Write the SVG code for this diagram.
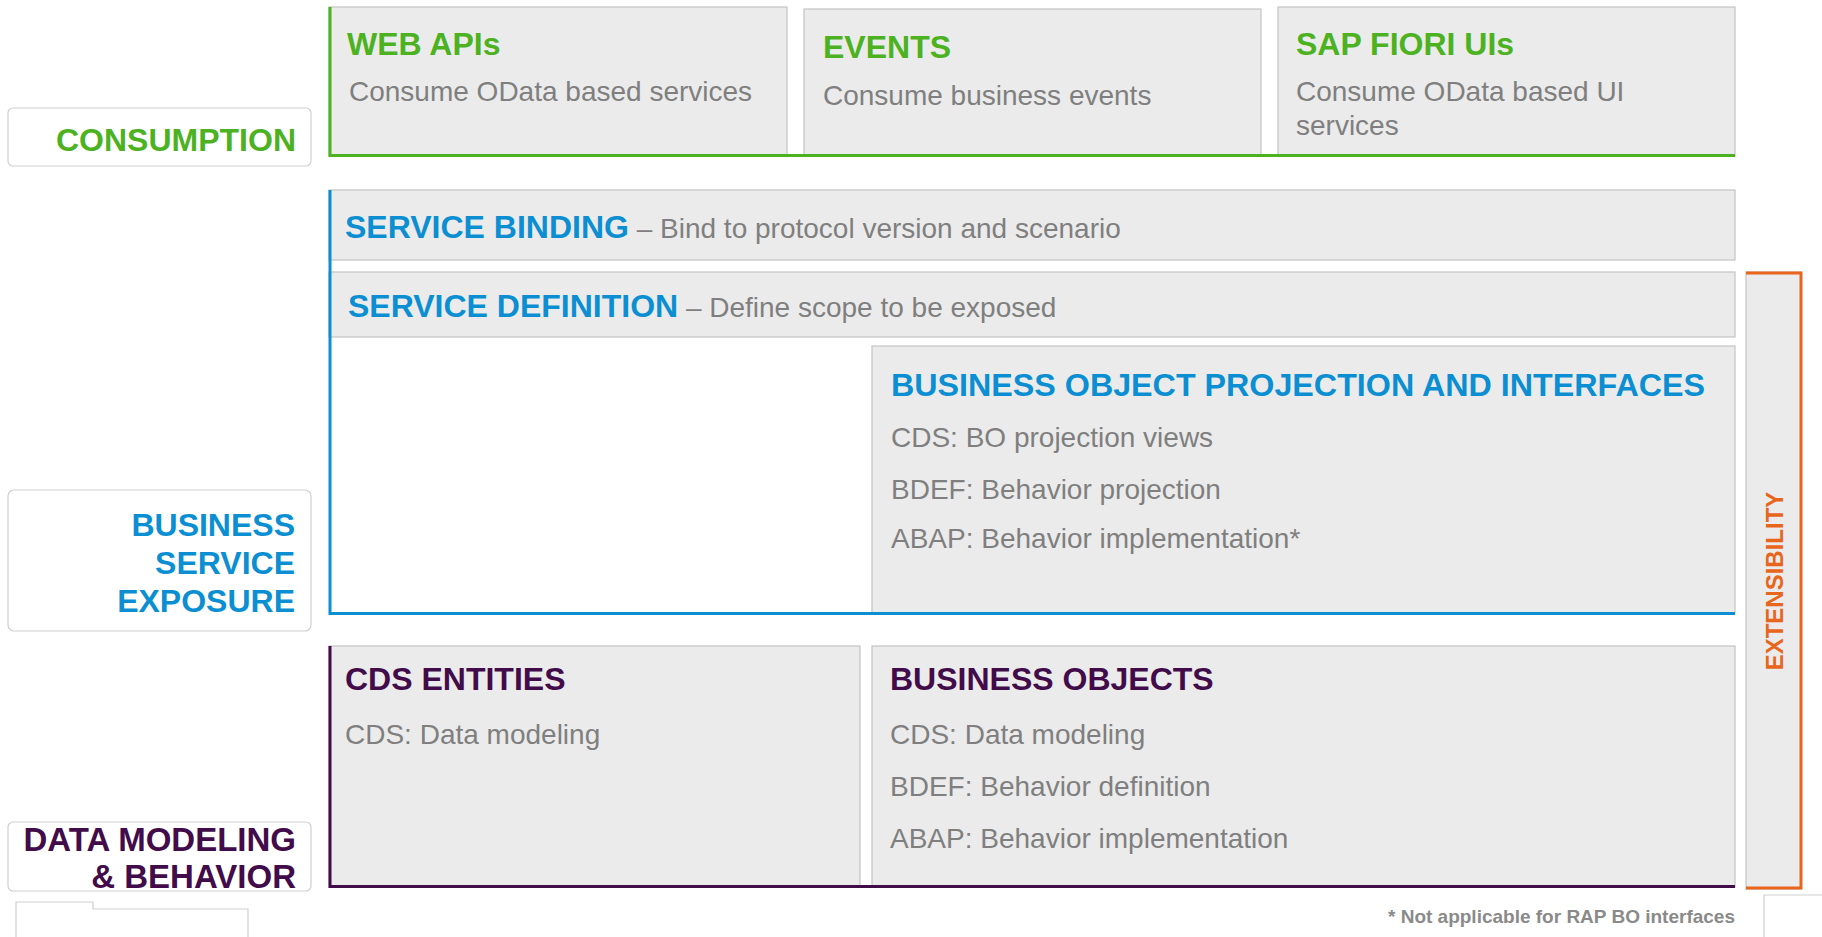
<svg xmlns="http://www.w3.org/2000/svg" width="1822" height="937" viewBox="0 0 1822 937">
<style>
.box{fill:#ebebeb;stroke:#c4c4c4;stroke-width:1.2}
.lbl{fill:#ffffff;stroke:#cfcfcf;stroke-width:1.2}
.t{font-family:"Liberation Sans",Arial,sans-serif;font-weight:bold;font-size:32px}
.b{font-family:"Liberation Sans",Arial,sans-serif;font-size:28px;fill:#7f7f7f}
.g{fill:#4cb21f}
.bl{fill:#0b8fd2}
.p{fill:#420b4a}
.o{fill:#e8661c}
</style>
<rect width="1822" height="937" fill="#ffffff"/>

<g id="label-consumption">
<rect class="lbl" x="8" y="108" width="303" height="58" rx="5"/>
<text class="t g" x="296" y="151" text-anchor="end">CONSUMPTION</text>
</g>
<g id="label-business-service-exposure">
<rect class="lbl" x="8" y="490" width="303" height="141" rx="6"/>
<text class="t bl" x="295" y="536" text-anchor="end">BUSINESS</text>
<text class="t bl" x="295" y="574" text-anchor="end">SERVICE</text>
<text class="t bl" x="295" y="612" text-anchor="end">EXPOSURE</text>
</g>
<g id="label-data-modeling">
<rect class="lbl" x="8" y="822" width="303" height="69" rx="5"/>
<text class="t p" x="296" y="851" text-anchor="end" font-size="33" style="font-size:33px">DATA MODELING</text>
<text class="t p" x="296" y="888" text-anchor="end" style="font-size:33px">&amp; BEHAVIOR</text>
</g>

<g id="web-apis">
<rect class="box" x="329" y="7" width="458" height="149"/>
<text class="t g" x="347" y="55">WEB APIs</text>
<text class="b" x="349" y="101">Consume OData based services</text>
</g>
<g id="events">
<rect class="box" x="804" y="9" width="457" height="147"/>
<text class="t g" x="823" y="58">EVENTS</text>
<text class="b" x="823" y="105">Consume business events</text>
</g>
<g id="sap-fiori-uis">
<rect class="box" x="1278" y="7" width="457" height="149"/>
<text class="t g" x="1296" y="55">SAP FIORI UIs</text>
<text class="b" x="1296" y="101">Consume OData based UI</text>
<text class="b" x="1296" y="135">services</text>
</g>

<g id="service-binding">
<rect class="box" x="329" y="190" width="1406" height="70"/>
<text x="345" y="238"><tspan class="t bl">SERVICE BINDING</tspan><tspan class="b"> – Bind to protocol version and scenario</tspan></text>
</g>
<g id="service-definition">
<rect class="box" x="329" y="272" width="1406" height="65"/>
<text x="348" y="317"><tspan class="t bl">SERVICE DEFINITION</tspan><tspan class="b"> – Define scope to be exposed</tspan></text>
</g>
<g id="bo-projection">
<rect class="box" x="872" y="346" width="863" height="267"/>
<text class="t bl" x="891" y="396" textLength="814" lengthAdjust="spacingAndGlyphs">BUSINESS OBJECT PROJECTION AND INTERFACES</text>
<text class="b" x="891" y="447">CDS: BO projection views</text>
<text class="b" x="891" y="499">BDEF: Behavior projection</text>
<text class="b" x="891" y="548">ABAP: Behavior implementation*</text>
</g>

<g id="cds-entities">
<rect class="box" x="329" y="646" width="531" height="241"/>
<text class="t p" x="345" y="690">CDS ENTITIES</text>
<text class="b" x="345" y="744">CDS: Data modeling</text>
</g>
<g id="business-objects">
<rect class="box" x="872" y="646" width="863" height="241"/>
<text class="t p" x="890" y="690">BUSINESS OBJECTS</text>
<text class="b" x="890" y="744">CDS: Data modeling</text>
<text class="b" x="890" y="796">BDEF: Behavior definition</text>
<text class="b" x="890" y="848">ABAP: Behavior implementation</text>
</g>

<g id="extensibility">
<rect class="box" x="1746" y="272" width="55" height="617"/>
<path d="M1746 273 H1801 V888 H1746" fill="none" stroke="#e8661c" stroke-width="3"/>
<text class="o" font-family="'Liberation Sans',Arial,sans-serif" font-weight="bold" font-size="24" transform="translate(1783 581) rotate(-90)" text-anchor="middle">EXTENSIBILITY</text>
</g>

<g id="connectors" fill="none" stroke-width="3">
<path d="M330 7 V155.5 H1735" stroke="#4cb21f"/>
<path d="M330 190 V613.5 H1735" stroke="#0b8fd2"/>
<path d="M330 646 V886.5 H1735" stroke="#420b4a"/>
</g>

<g id="footer">
<text font-family="'Liberation Sans',Arial,sans-serif" font-weight="bold" font-size="19" fill="#8a8a8a" x="1735" y="923" text-anchor="end">* Not applicable for RAP BO interfaces</text>
<path d="M16 937 V902 H93 V909 H248 V937" fill="#ffffff" stroke="#cfcfcf" stroke-width="1.2"/>
<path d="M1764 937 V895 H1822" fill="#ffffff" stroke="#cfcfcf" stroke-width="1.2"/>
</g>
</svg>
